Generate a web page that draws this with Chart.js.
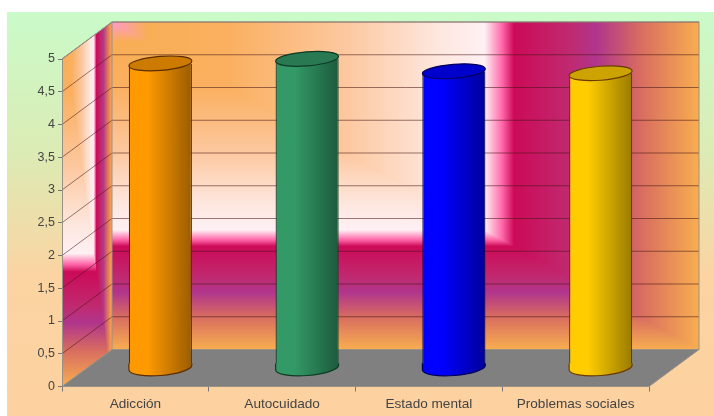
<!DOCTYPE html>
<html>
<head>
<meta charset="utf-8">
<style>
  html, body { margin: 0; padding: 0; background: #fff; }
  #wrap { width: 714px; height: 416px; }
  #grafico { filter: blur(0.4px); }
</style>
<script src="https://cdn.jsdelivr.net/npm/chart.js@4"></script>
</head>
<body>
<div id="wrap"><canvas id="grafico" width="714" height="416"></canvas></div>
<script>
var categorias = ['Adicción', 'Autocuidado', 'Estado mental', 'Problemas sociales'];
var valores = [4.65, 4.72, 4.53, 4.5];

// colores de cada cilindro: claro, oscuro, tapa, borde
var colorClaro = ['#ff9900', '#339966', '#0000ff', '#ffcc00'];
var colorOscuro = ['#9a5c00', '#1c5a3c', '#00009a', '#9a7b00'];
var colorTapa = ['#cc7a00', '#297a52', '#0000cc', '#cca300'];
var colorBorde = ['#5a2c00', '#0f3a25', '#00005a', '#6a3a00'];

// desplazamiento de la pared del fondo respecto al eje
var fondoX = 50;
var fondoY = -37;
var radioY = 7;
var giro = -0.08; // las tapas salen un poco inclinadas

// degradado de las paredes, se repite en la pared lateral
var paradas = [
  [0, '#ff99cc'], [0.06, '#f8ae55'], [0.2, '#fab060'], [0.4, '#fdc8a0'],
  [0.55, '#fde6dc'], [0.635, '#fff0f4'], [0.665, '#ff66a8'], [0.685, '#cc0a58'],
  [0.78, '#c02a70'], [0.825, '#b0358c'], [0.9, '#d86c60'], [1, '#f8ae50']
];

function degradado(ctx, x0, y0, x1, y1, lista) {
  var g = ctx.createLinearGradient(x0, y0, x1, y1);
  lista.forEach(function(p) { g.addColorStop(p[0], p[1]); });
  return g;
}

function degradadoBarra(ctx, centro, r, i) {
  return degradado(ctx, centro - r, 0, centro + r, 0,
    [[0, colorClaro[i]], [0.3, colorClaro[i]], [1, colorOscuro[i]]]);
}

// pinta el degradado en forma de L dentro de un rectangulo
function pared(ctx, x, y, w, h) {
  ctx.fillStyle = degradado(ctx, x, 0, x + w, 0, paradas);
  ctx.fillRect(x, y, w, h);
  ctx.beginPath();
  ctx.moveTo(x, y);
  ctx.lineTo(x + w, y + h);
  ctx.lineTo(x, y + h);
  ctx.closePath();
  ctx.fillStyle = degradado(ctx, 0, y, 0, y + h, paradas);
  ctx.fill();
}

function linea(ctx, x0, y0, x1, y1) {
  ctx.beginPath();
  ctx.moveTo(x0, y0);
  ctx.lineTo(x1, y1);
  ctx.stroke();
}

var escena = {
  id: 'escena',
  beforeDraw: function(chart) {
    var ctx = chart.ctx;
    var a = chart.chartArea;
    ctx.save();
    // fondo general
    ctx.fillStyle = degradado(ctx, 0, 12, 0, 416, [[0, '#c9fbc9'], [0.35, '#dcebb4'], [0.65, '#fbd4a2'], [1, '#fdd1a0']]);
    ctx.fillRect(7, 12, 707, 404);
    // pared del fondo
    pared(ctx, a.left + fondoX, a.top + fondoY, a.right - a.left, a.bottom - a.top);
    // pared lateral: el degradado no se inclina, solo se recorta
    ctx.save();
    ctx.beginPath();
    ctx.moveTo(a.left, a.top);
    ctx.lineTo(a.left + fondoX, a.top + fondoY);
    ctx.lineTo(a.left + fondoX, a.bottom + fondoY);
    ctx.lineTo(a.left, a.bottom);
    ctx.closePath();
    ctx.clip();
    pared(ctx, a.left, a.top + fondoY, fondoX, a.bottom - a.top - fondoY);
    ctx.restore();
    // suelo
    ctx.fillStyle = '#808080';
    ctx.beginPath();
    ctx.moveTo(a.left, a.bottom);
    ctx.lineTo(a.left + fondoX, a.bottom + fondoY);
    ctx.lineTo(a.right + fondoX, a.bottom + fondoY);
    ctx.lineTo(a.right, a.bottom);
    ctx.closePath();
    ctx.fill();
    // rejilla en las dos paredes
    ctx.lineWidth = 1;
    chart.scales.y.ticks.forEach(function(t) {
      var y = chart.scales.y.getPixelForValue(t.value);
      if (t.value === 0) return;
      ctx.strokeStyle = 'rgba(70,20,20,0.55)';
      linea(ctx, a.left, y, a.left + fondoX, y + fondoY);
      linea(ctx, a.left + fondoX, y + fondoY, a.right + fondoX, y + fondoY);
    });
    // contornos
    ctx.strokeStyle = '#999088';
    ctx.strokeRect(a.left + fondoX, a.top + fondoY, a.right - a.left, a.bottom - a.top);
    linea(ctx, a.left, a.top, a.left + fondoX, a.top + fondoY);
    linea(ctx, a.left, a.bottom, a.left + fondoX, a.bottom + fondoY);
    linea(ctx, a.right, a.bottom, a.right + fondoX, a.bottom + fondoY);
    ctx.restore();
  },
  beforeDatasetsDraw: function(chart) {
    // los cilindros van a media profundidad
    chart.ctx.save();
    chart.ctx.translate(fondoX / 2, fondoY / 2);
  },
  afterDatasetsDraw: function(chart) {
    var ctx = chart.ctx;
    ctx.lineWidth = 1.2;
    chart.getDatasetMeta(0).data.forEach(function(bar, i) {
      var r = bar.width / 2;
      // base curva
      ctx.beginPath();
      ctx.moveTo(bar.x + r, bar.base - 4);
      ctx.ellipse(bar.x, bar.base, r, radioY + 1, giro, 0, Math.PI);
      ctx.lineTo(bar.x - r, bar.base - 4);
      ctx.fillStyle = degradadoBarra(ctx, bar.x, r, i);
      ctx.fill();
      ctx.strokeStyle = colorBorde[i];
      ctx.stroke();
      // tapa
      ctx.beginPath();
      ctx.ellipse(bar.x, bar.y, r, radioY, giro, 0, Math.PI * 2);
      ctx.fillStyle = colorTapa[i];
      ctx.fill();
      ctx.stroke();
    });
    ctx.restore();
  }
};

new Chart(document.getElementById('grafico'), {
  type: 'bar',
  data: {
    labels: categorias,
    datasets: [{
      data: valores,
      backgroundColor: function(c) {
        var x = c.chart.scales.x;
        var centro = x ? x.getPixelForValue(c.dataIndex) : NaN;
        if (!isFinite(centro)) return colorClaro[c.dataIndex];
        return degradadoBarra(c.chart.ctx, centro, (x.width / categorias.length) * 0.43 / 2, c.dataIndex);
      },
      borderColor: colorBorde,
      borderWidth: { left: 1.2, right: 1.2, top: 0, bottom: 0 },
      borderSkipped: false,
      barPercentage: 0.43,
      categoryPercentage: 1
    }]
  },
  options: {
    responsive: false,
    animation: false,
    layout: { padding: { left: 0, right: 65, top: 59, bottom: 0 } },
    plugins: { legend: { display: false }, tooltip: { enabled: false } },
    scales: {
      x: {
        afterFit: function(s) { s.height = 29.5; },
        grid: { display: true, drawOnChartArea: false, drawTicks: true, tickLength: 5, color: '#777', offset: true },
        border: { color: '#999088' },
        ticks: { color: '#444', font: { family: 'Liberation Sans', size: 13.6 }, padding: 5, maxRotation: 0 }
      },
      y: {
        min: 0,
        max: 5,
        afterFit: function(s) { s.width = 62; },
        grid: { display: true, drawOnChartArea: false, tickLength: 4, color: '#777' },
        border: { color: '#999088' },
        ticks: {
          stepSize: 0.5,
          color: '#444',
          font: { family: 'Liberation Sans', size: 12.5 },
          padding: 3,
          callback: function(v) { return String(v).replace('.', ','); }
        }
      }
    }
  },
  plugins: [escena]
});
</script>
</body>
</html>
